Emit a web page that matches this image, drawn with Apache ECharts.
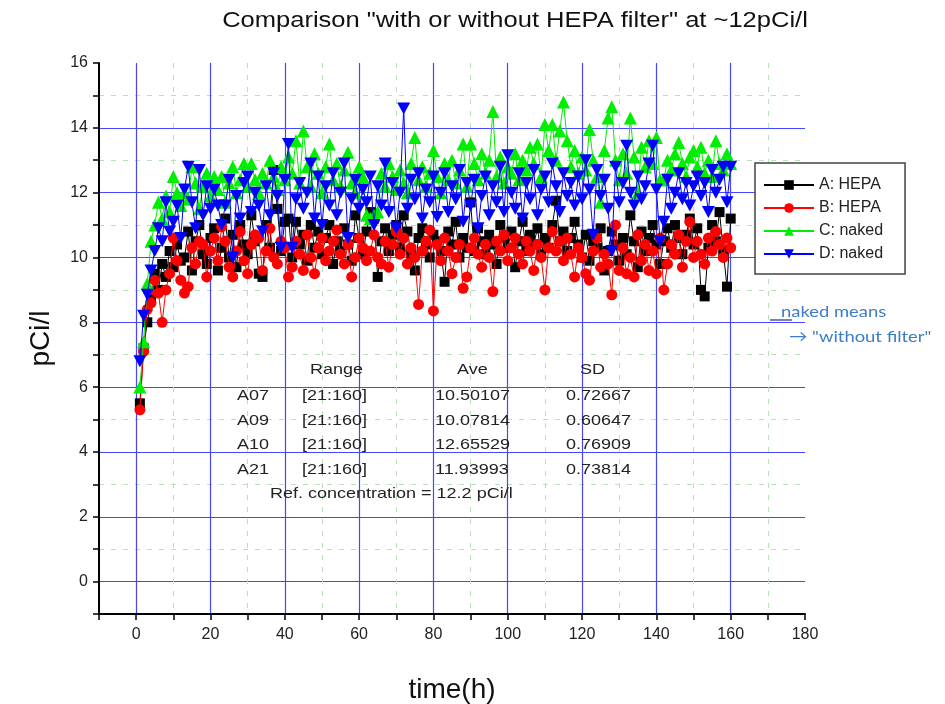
<!DOCTYPE html>
<html><head><meta charset="utf-8">
<script src="https://cdn.jsdelivr.net/npm/echarts@6/dist/echarts.min.js"></script>
<style>html,body{margin:0;padding:0;background:#fff}#c{width:945px;height:704px}</style>
</head><body><div id="c"></div>
<script>
const hours = [1,2,3,4,5,6,7,8,9,10,11,12,13,14,15,16,17,18,19,20,
21,22,23,24,25,26,27,28,29,30,31,32,33,34,35,36,37,38,39,40,
41,42,43,44,45,46,47,48,49,50,51,52,53,54,55,56,57,58,59,60,
61,62,63,64,65,66,67,68,69,70,71,72,73,74,75,76,77,78,79,80,
81,82,83,84,85,86,87,88,89,90,91,92,93,94,95,96,97,98,99,100,
101,102,103,104,105,106,107,108,109,110,111,112,113,114,115,116,117,118,119,120,
121,122,123,124,125,126,127,128,129,130,131,132,133,134,135,136,137,138,139,140,
141,142,143,144,145,146,147,148,149,150,151,152,153,154,155,156,157,158,159,160];

const seriesNames = ['A: HEPA', 'B: HEPA', 'C: naked', 'D: naked'];

const hepaA = [5.5,7.2,8.0,8.7,9.5,9.0,9.8,9.4,10.2,9.7,
10.4,9.9,10.0,10.8,9.6,10.5,11.0,10.1,9.8,10.6,
10.9,9.6,10.3,11.2,10.0,10.7,9.7,11.0,10.4,10.1,
11.3,10.5,9.5,9.4,11.0,10.3,12.7,11.5,10.2,11.1,
11.2,10.0,11.1,10.4,10.7,9.9,11.0,10.3,10.8,10.1,
10.6,11.0,9.8,10.5,10.2,10.9,10.4,9.9,11.3,10.6,
10.1,10.8,11.4,11.2,9.4,10.5,10.9,10.2,10.7,11.0,
10.3,11.3,10.8,10.1,9.6,10.6,10.9,10.4,10.0,10.7,
10.5,10.2,9.25,10.8,10.4,11.1,10.0,10.6,10.3,11.7,
10.2,10.9,10.5,10.1,10.7,10.4,9.8,11.0,10.6,10.3,
10.8,9.7,10.5,11.1,10.2,10.7,10.4,10.9,10.1,10.6,
10.3,11.0,11.75,10.5,10.8,10.2,10.6,11.1,10.4,10.0,
10.7,9.9,10.5,10.3,10.9,9.6,10.2,10.8,10.4,9.9,
10.6,10.1,11.3,10.5,9.7,10.8,10.2,10.6,11.0,10.4,
9.8,10.5,10.9,10.3,11.0,10.6,10.1,10.7,11.2,10.4,
10.9,9.0,8.8,10.3,11.0,10.5,11.4,10.2,9.1,11.2];

const hepaB = [5.3,7.1,8.4,8.6,9.3,8.9,8.0,9.0,9.5,10.6,
9.9,9.3,8.9,9.1,10.3,9.8,10.5,10.4,9.4,10.2,
10.6,9.9,10.95,10.5,9.7,9.4,10.2,10.8,9.9,9.5,
10.4,10.7,10.6,9.6,10.2,10.9,10.0,9.8,10.5,10.3,
9.4,9.7,10.5,10.1,9.6,10.7,10.0,9.5,10.3,10.6,
9.9,10.2,10.5,10.85,10.1,9.8,10.4,9.4,10.0,10.6,
10.3,9.9,10.2,10.7,10.0,9.8,10.5,9.7,10.4,10.8,
10.1,10.6,9.8,10.3,10.0,8.55,10.2,10.5,10.85,8.35,
10.4,9.9,10.6,10.2,9.5,10.0,10.4,9.05,9.4,10.3,
10.6,10.1,9.7,10.4,10.0,8.95,10.5,10.2,10.7,9.9,
10.3,10.6,10.1,9.8,10.5,10.2,9.6,10.4,10.0,9.0,
10.3,10.8,10.2,10.5,9.9,10.6,10.1,9.4,10.3,10.0,
9.5,9.3,10.2,10.6,9.7,10.1,9.8,8.85,11.0,9.6,
10.3,9.5,10.0,9.4,10.7,9.9,10.4,9.6,10.2,9.5,
10.6,9.0,9.8,10.4,10.1,10.7,9.7,10.5,11.1,10.0,
10.5,10.1,9.8,10.6,10.2,10.8,10.4,10.0,10.6,10.3];

const nakedC = [6.0,7.4,9.2,10.5,11.0,11.7,11.2,11.9,11.4,12.5,
12.0,11.6,12.0,11.8,12.8,12.3,11.5,12.2,12.6,11.9,
12.5,12.1,12.5,11.7,12.3,12.8,12.0,12.4,12.9,12.2,
12.9,12.4,12.0,12.6,12.3,13.0,12.5,12.1,12.8,12.4,
13.1,12.6,13.6,12.3,13.9,12.8,12.2,13.2,12.6,12.0,
12.8,13.5,12.4,12.9,12.2,12.7,13.25,12.3,12.0,12.8,
12.5,11.3,11.2,11.3,11.4,12.6,12.2,12.9,12.5,12.1,
12.7,12.3,12.0,12.9,13.7,12.4,12.8,12.2,12.6,13.3,
12.5,12.0,12.9,12.4,13.0,12.3,12.7,13.5,12.2,13.5,
12.9,12.4,13.2,12.6,13.0,14.5,12.5,13.1,12.3,12.8,
12.6,13.2,12.4,13.0,12.7,13.4,12.9,13.5,12.5,14.1,
13.3,14.1,13.0,13.9,14.8,13.6,12.8,13.3,12.6,13.1,
12.7,13.95,13.0,12.5,11.7,13.3,14.3,14.65,13.0,12.4,
13.2,12.6,14.3,13.1,12.0,13.4,12.8,13.6,12.9,13.7,
12.4,12.4,13.0,12.7,13.2,13.55,12.9,12.5,13.1,13.3,
12.8,13.4,12.6,13.0,12.5,13.6,12.9,12.7,13.2,12.9];

const nakedD = [6.8,8.2,8.85,9.6,10.2,10.9,10.5,11.7,10.8,11.1,
11.6,10.6,12.1,12.8,11.7,10.9,12.7,11.3,12.2,11.5,
12.1,11.6,11.0,11.6,12.4,10.0,11.9,11.2,12.3,12.5,
11.4,12.0,11.6,10.8,12.2,11.3,12.6,11.9,10.3,12.4,
13.5,10.3,11.8,12.3,11.5,12.0,12.9,11.2,12.5,11.0,
12.2,11.6,12.6,11.3,12.0,12.9,10.6,11.8,12.4,11.5,
12.1,11.7,12.5,11.0,12.2,11.6,12.9,11.4,12.3,10.9,
12.0,14.6,11.5,12.4,11.8,12.6,11.2,12.1,11.7,12.5,
11.25,12.0,12.6,11.4,12.2,11.8,12.7,11.1,12.3,11.6,
12.4,10.9,11.9,12.5,11.3,12.2,11.7,12.8,11.4,13.15,
12.0,11.5,12.6,11.2,12.3,11.8,12.7,11.3,12.1,12.5,
11.7,12.9,12.2,11.4,12.6,11.9,12.3,11.6,12.5,11.8,
13.0,12.1,10.7,12.7,11.9,12.4,11.5,10.2,12.8,11.7,
12.3,13.45,12.0,11.6,12.5,11.8,12.2,12.9,13.45,12.1,
10.5,11.1,12.4,11.5,12.0,12.6,11.8,12.3,11.6,12.2,
12.5,11.9,12.3,11.4,12.7,12.0,12.4,12.8,11.7,12.8];

const xTickLabels = [0,20,40,60,80,100,120,140,160,180];
const yTickLabels = [0,2,4,6,8,10,12,14,16];

const statsHeader = ['Range', 'Ave', 'SD'];
const statsIds = ['A07', 'A09', 'A10', 'A21'];
const statsRanges = ['[21:160]', '[21:160]', '[21:160]', '[21:160]'];
const statsAve = ['10.50107', '10.07814', '12.65529', '11.93993'];
const statsSD = ['0.72667', '0.60647', '0.76909', '0.73814'];
const refNote = 'Ref. concentration = 12.2 pCi/l';
const titleText = 'Comparison "with or without HEPA filter" at ~12pCi/l';
const noteLines = ['naked means', '\u2192 "without filter"'];

const FONT = "'Liberation Sans', Arial, sans-serif";
const BLUE_GRID = '#4646ff';
const GREEN_GRID = '#b6e2b6';

function pairs(vals) { return vals.map((v, i) => [hours[i], v]); }

const seriesCfg = [
  {vals: hepaA, color: '#000000', symbol: 'rect', size: 10},
  {vals: hepaB, color: '#ff0000', symbol: 'circle', size: 11},
  {vals: nakedC, color: '#00ee00', symbol: 'triangle', size: 13},
  {vals: nakedD, color: '#0000ff', symbol: 'path://M0,0 L10,0 L5,9 Z', size: [13, 12]}
];

const series = seriesCfg.map((c, i) => ({
  name: seriesNames[i],
  type: 'line',
  xAxisIndex: 0, yAxisIndex: 0,
  data: pairs(c.vals),
  symbol: c.symbol,
  symbolSize: c.size,
  showSymbol: true,
  showAllSymbol: true,
  lineStyle: {color: c.color, width: 1},
  itemStyle: {color: c.color},
  emphasis: {disabled: true},
  z: 3 + i
}));

const texts = [];
function addText(txt, x, y, opts) {
  texts.push(Object.assign({
    type: 'text', x: x, y: y, scaleX: 1.2, z: 100,
    style: {text: txt, fill: '#222', fontSize: 15, fontFamily: FONT, align: 'left', verticalAlign: 'middle'}
  }, opts || {}));
}
// title
texts.push({type: 'text', x: 515, y: 21, scaleX: 1.16, z: 100,
  style: {text: titleText, fill: '#111', fontSize: 22, fontFamily: FONT, align: 'center', verticalAlign: 'middle'}});
// stats table
addText(statsHeader[0], 310, 370);
addText(statsHeader[1], 457, 370);
addText(statsHeader[2], 580, 370);
const rowY = [396, 421, 445, 470];
statsIds.forEach((id, i) => {
  addText(id, 237, rowY[i]);
  addText(statsRanges[i], 302, rowY[i]);
  addText(statsAve[i], 435, rowY[i]);
  addText(statsSD[i], 566, rowY[i]);
});
addText(refNote, 270, 494);
// annotation
texts.push({type: 'text', x: 781, y: 312, scaleX: 1.15, z: 100,
  style: {text: noteLines[0], fill: '#3d7cc9', fontSize: 16, fontFamily: "Lato, 'Open Sans', sans-serif", align: 'left', verticalAlign: 'middle'}});
texts.push({type: 'text', x: 789, y: 337, scaleX: 1.15, z: 100,
  style: {text: noteLines[1], fill: '#3d7cc9', fontSize: 16, fontFamily: "Lato, 'Open Sans', sans-serif", align: 'left', verticalAlign: 'middle'}});
texts.push({type: 'line', z: 100, shape: {x1: 770, y1: 320, x2: 792, y2: 320}, style: {stroke: '#5050b8', lineWidth: 1.5}});

const gridBox = {left: 99, right: 140, top: 63, bottom: 90};

const option = {
  animation: false,
  backgroundColor: '#ffffff',
  grid: Object.assign({containLabel: false, outerBoundsMode: 'none'}, gridBox),
  legend: {
    orient: 'vertical',
    left: 755, top: 163,
    data: seriesNames,
    backgroundColor: '#ffffff',
    borderColor: '#444',
    borderWidth: 1.5,
    borderRadius: 0,
    padding: [14, 22, 12, 8],
    itemGap: 7,
    itemWidth: 50,
    itemHeight: 12,
    textStyle: {fontSize: 16, fontFamily: FONT, color: '#222', padding: [0, 0, 0, 0]},
    z: 50
  },
  xAxis: [{
    type: 'value', min: -10, max: 180, interval: 10,
    name: 'time(h)', nameLocation: 'middle', nameGap: 62,
    nameTextStyle: {fontSize: 28, fontFamily: FONT, color: '#111'},
    axisLine: {onZero: false, lineStyle: {color: '#000', width: 2}},
    axisTick: {show: true, length: 6, inside: false, lineStyle: {color: '#000', width: 1.5}},
    axisLabel: {fontSize: 16, fontFamily: FONT, color: '#222', margin: 13,
      formatter: v => xTickLabels.includes(v) ? String(v) : ''},
    splitLine: {show: true, showMinLine: false, showMaxLine: false,
      lineStyle: {color: [BLUE_GRID, 'rgba(0,0,0,0)'], width: 1.2}}
  }, {
    type: 'value', min: -10, max: 180, interval: 10,
    axisLine: {show: false}, axisTick: {show: false}, axisLabel: {show: false},
    splitLine: {show: true, showMinLine: false, showMaxLine: false,
      lineStyle: {color: ['rgba(0,0,0,0)', GREEN_GRID], width: 1, type: [5, 7]}}
  }],
  yAxis: [{
    type: 'value', min: -1, max: 16, interval: 1,
    name: 'pCi/l', nameLocation: 'middle', nameGap: 44, nameRotate: 90,
    nameTextStyle: {fontSize: 28, fontFamily: FONT, color: '#111'},
    axisLine: {onZero: false, lineStyle: {color: '#000', width: 2}},
    axisTick: {show: true, length: 6, inside: false, lineStyle: {color: '#000', width: 1.5}},
    axisLabel: {fontSize: 16, fontFamily: FONT, color: '#222', margin: 11,
      formatter: v => yTickLabels.includes(v) ? String(v) : ''},
    splitLine: {show: true, showMinLine: false, showMaxLine: false,
      lineStyle: {color: [BLUE_GRID, 'rgba(0,0,0,0)'], width: 1.2}}
  }, {
    type: 'value', min: -1, max: 16, interval: 1,
    axisLine: {show: false}, axisTick: {show: false}, axisLabel: {show: false},
    splitLine: {show: true, showMinLine: false, showMaxLine: false,
      lineStyle: {color: ['rgba(0,0,0,0)', GREEN_GRID], width: 1, type: [5, 7]}}
  }],
  series: series,
  graphic: texts
};

const chart = echarts.init(document.getElementById('c'), null, {renderer: 'canvas'});
chart.setOption(option);
</script>
</body></html>
